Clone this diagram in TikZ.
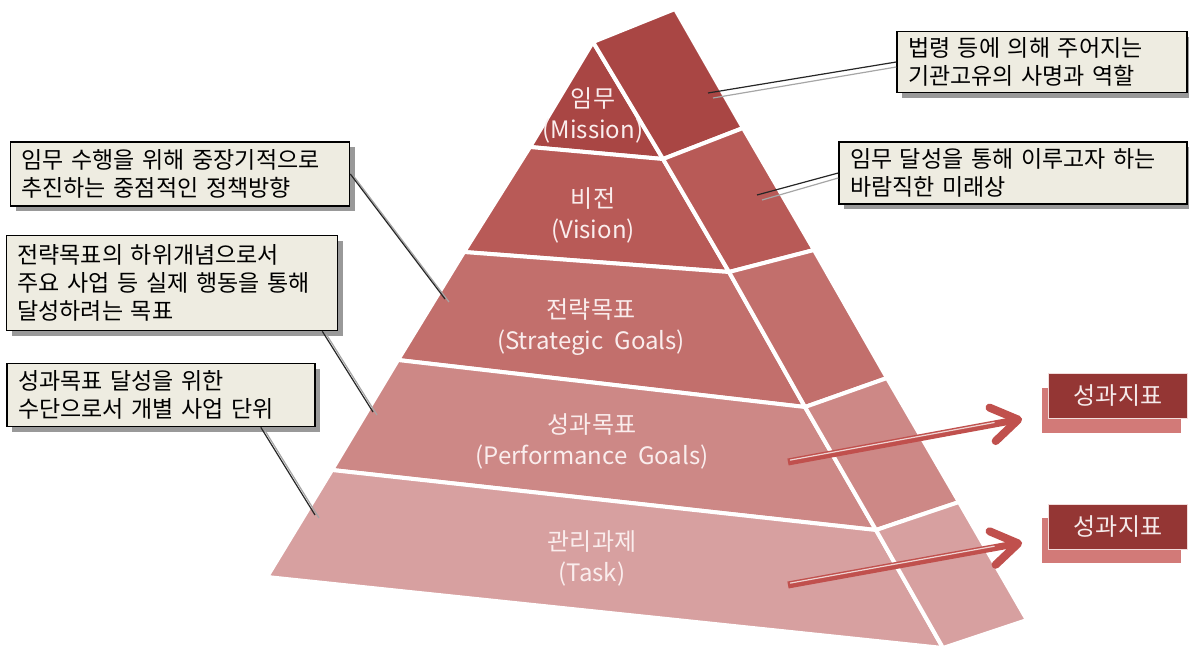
\documentclass[tikz,border=0pt]{standalone}
\usepackage{fontspec}
\setmainfont{Noto Sans CJK KR}
\usetikzlibrary{positioning,arrows.meta,shadows}

\definecolor{missioncol}{HTML}{A94644}
\definecolor{visioncol}{HTML}{B85A57}
\definecolor{strategycol}{HTML}{C26F6C}
\definecolor{perfcol}{HTML}{CD8886}
\definecolor{taskcol}{HTML}{D7A0A0}
\definecolor{layertextcol}{HTML}{FAEDED}
\definecolor{calloutbg}{HTML}{EEECE1}
\definecolor{kpifill}{HTML}{943634}
\definecolor{kpiedge}{HTML}{F2DCDB}
\definecolor{kpishadow}{HTML}{D27A78}
\definecolor{kpitext}{HTML}{F5EAEA}
\definecolor{arrowred}{HTML}{C0504D}

\begin{document}
\begin{tikzpicture}[x=1pt,y=-1pt,
  layer/.style={draw=white,line width=4pt,line join=round},
  layertext/.style={align=center,text=layertextcol,font=\fontsize{24}{31}\selectfont},
  callout/.style={draw=black,line width=1.6pt,fill=calloutbg,align=left,
    inner xsep=11pt,inner ysep=0pt,font=\fontsize{23}{28}\selectfont,
    drop shadow={shadow xshift=5pt,shadow yshift=-5pt,fill=black!40,opacity=1}},
  leader/.style={draw=black!85,line width=1.2pt},
  leadershadow/.style={draw=black!35,line width=1.2pt},
  kpi/.style={fill=kpifill,draw=kpiedge,line width=0.8pt,text=kpitext,
    minimum width=139pt,minimum height=45pt,font=\fontsize{24}{28}\selectfont,
    drop shadow={shadow xshift=-7pt,shadow yshift=-14pt,fill=kpishadow,opacity=1}},
  kpiarrow/.style={draw=arrowred,line width=7pt,
    -{Straight Barb[length=26pt,width=34pt,line width=8pt,round]}},
  kpistripe/.style={draw=white!75!arrowred,line width=1.2pt,shorten >=28pt,shorten <=2pt}
]
  \useasboundingbox (0,0) rectangle (1189,651);

  % pyramid corners
  \coordinate (apex) at (593,42);
  \coordinate (back) at (675,9);
  \coordinate (l1) at (530,147);
  \coordinate (l2) at (464,252);
  \coordinate (l3) at (398,360);
  \coordinate (l4) at (332,470);
  \coordinate (l5) at (267,577);
  \coordinate (r1) at (663,159);
  \coordinate (r2) at (729,272);
  \coordinate (r3) at (805,407);
  \coordinate (r4) at (876,530);
  \coordinate (r5) at (943,648);
  \coordinate (e1) at (743,128);
  \coordinate (e2) at (814,250);
  \coordinate (e3) at (887,378);
  \coordinate (e4) at (959,502);
  \coordinate (e5) at (1027,620);

  % front face
  \filldraw[layer,fill=missioncol] (apex) -- (l1) -- (r1) -- cycle;
  \filldraw[layer,fill=visioncol] (l1) -- (l2) -- (r2) -- (r1) -- cycle;
  \filldraw[layer,fill=strategycol] (l2) -- (l3) -- (r3) -- (r2) -- cycle;
  \filldraw[layer,fill=perfcol] (l3) -- (l4) -- (r4) -- (r3) -- cycle;
  \filldraw[layer,fill=taskcol] (l4) -- (l5) -- (r5) -- (r4) -- cycle;

  % right face
  \filldraw[layer,fill=missioncol] (apex) -- (back) -- (e1) -- (r1) -- cycle;
  \filldraw[layer,fill=visioncol] (r1) -- (e1) -- (e2) -- (r2) -- cycle;
  \filldraw[layer,fill=strategycol] (r2) -- (e2) -- (e3) -- (r3) -- cycle;
  \filldraw[layer,fill=perfcol] (r3) -- (e3) -- (e4) -- (r4) -- cycle;
  \filldraw[layer,fill=taskcol] (r4) -- (e4) -- (e5) -- (r5) -- cycle;

  \node[layertext] (missiontext) at (593,115) {임무\\(Mission)};
  \node[layertext] (visiontext) at (593,215) {비전\\(Vision)};
  \node[layertext] (strategytext) at (591,327) {전략목표\\(Strategic\ \ Goals)};
  \node[layertext] (perftext) at (592,441) {성과목표\\(Performance\ \ Goals)};
  \node[layertext] (tasktext) at (592,558) {관리과제\\(Task)};

  % callouts
  \node[callout,text width=268pt,minimum height=61pt] (missionbox) at (1042,62)
    {법령 등에 의해 주어지는\\기관고유의 사명과 역할};
  \node[callout,text width=326pt,minimum height=62pt] (visionbox) at (1013,173)
    {임무 달성을 통해 이루고자 하는\\바람직한 미래상};
  \node[callout,text width=317pt,minimum height=64pt] (strategybox) at (180,174)
    {임무 수행을 위해 중장기적으로\\추진하는 중점적인 정책방향};
  \node[callout,text width=309pt,minimum height=95pt] (perfbox) at (172,283)
    {전략목표의 하위개념으로서\\주요 사업 등 실제 행동을 통해\\달성하려는 목표};
  \node[callout,text width=286pt,minimum height=63pt] (taskbox) at (161,395)
    {성과목표 달성을 위한\\수단으로서 개별 사업 단위};

  \coordinate (mpin) at (708,93);
  \coordinate (vpin) at (757,195);
  \coordinate (spin) at (445,299);
  \coordinate (ppin) at (373,412);
  \coordinate (tpin) at (315,515);

  \draw[leadershadow] ([shift={(5,5)}]mpin) -- ([shift={(0,5)}]missionbox.west);
  \draw[leader] (mpin) -- (missionbox.west);
  \draw[leadershadow] ([shift={(5,5)}]vpin) -- ([shift={(0,5)}]visionbox.west);
  \draw[leader] (vpin) -- (visionbox.west);
  \draw[leadershadow] ([shift={(4,3)}]strategybox.east) -- ([shift={(4,3)}]spin);
  \draw[leader] (strategybox.east) -- (spin);
  \draw[leadershadow] ([shift={(4,3)}]perfbox.south east) ++(-16,0) -- ([shift={(4,3)}]ppin);
  \draw[leader] ([xshift=-16pt]perfbox.south east) -- (ppin);
  \draw[leadershadow] ([shift={(4,3)}]taskbox.south east) ++(-55,0) -- ([shift={(4,3)}]tpin);
  \draw[leader] ([xshift=-55pt]taskbox.south east) -- (tpin);

  % indicators
  \node[kpi] (kpi1) at (1118,396) {성과지표};
  \node[kpi,below=85pt of kpi1] (kpi2) {성과지표};

  \coordinate (kstart1) at (788,462);
  \coordinate (kstart2) at (788,585);
  \draw[kpiarrow] (kstart1) -- ([xshift=-26pt]kpi1.south west);
  \draw[kpistripe] ([yshift=1.5pt]kstart1) -- ([xshift=-26pt,yshift=1.5pt]kpi1.south west);
  \draw[kpiarrow] (kstart2) -- ([xshift=-26pt,yshift=7pt]kpi2.south west);
  \draw[kpistripe] ([yshift=1.5pt]kstart2) -- ([xshift=-26pt,yshift=8.5pt]kpi2.south west);
\end{tikzpicture}
\end{document}
